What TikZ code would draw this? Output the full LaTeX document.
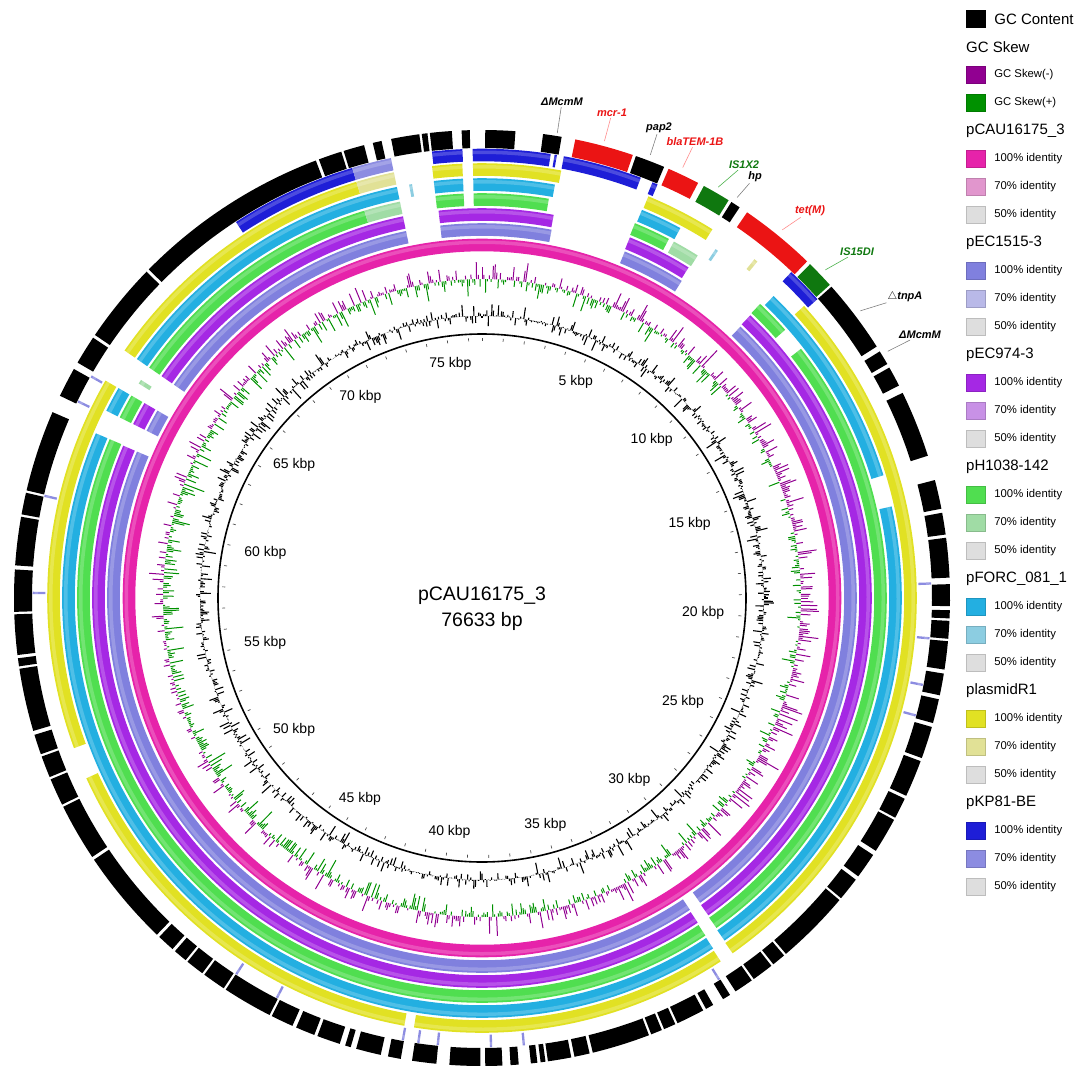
\documentclass[tikz,border=0pt]{standalone}
\usepackage{fontspec}
\setmainfont{Liberation Sans}
\usetikzlibrary{positioning}
\tikzset{%
  backbone/.style = {
    line width = 1.6pt,
    draw = black,
  },
  kbptick/.style = {
    line width = 0.7pt,
    draw = black!70,
  },
  kbplabel/.style = {
    font = \fontsize{14}{16}\selectfont,
    inner sep = 2pt,
  },
  titletext/.style = {
    font = \fontsize{19.5}{22}\selectfont,
    inner sep = 1pt,
  },
  gcbar/.style = {
    line width = 1.1pt,
    draw = black,
  },
  skewbar/.style = {
    line width = 1pt,
    draw = #1,
  },
  genelabel/.style = {
    font = \fontsize{11}{12}\selectfont\bfseries\itshape,
    text = #1,
    inner sep = 1pt,
  },
  genelabel/.default = {black},
  leader/.style = {
    line width = 0.6pt,
    draw = #1,
  },
  leader/.default = {gray},
  keybox/.style = {
    fill = #1,
    draw = #1!85!black,
    line width = 0.4pt,
    minimum width = 19pt,
    minimum height = 17pt,
    inner sep = 0pt,
  },
  keyhead/.style = {
    font = \fontsize{15}{17}\selectfont,
    anchor = west,
    inner sep = 0pt,
  },
  keylabel/.style = {
    font = \fontsize{11.3}{13}\selectfont,
    inner sep = 0pt,
  },
}
\definecolor{pcau}    {RGB}{230, 35,170}
\definecolor{pcaul}   {RGB}{225,150,205}
\definecolor{peca}    {RGB}{128,128,222}
\definecolor{pecal}   {RGB}{185,185,232}
\definecolor{pecb}    {RGB}{165, 40,228}
\definecolor{pecbl}   {RGB}{200,145,230}
\definecolor{ph}      {RGB}{ 80,222, 80}
\definecolor{phl}     {RGB}{160,220,165}
\definecolor{pforc}   {RGB}{ 35,175,225}
\definecolor{pforcl}  {RGB}{140,205,225}
\definecolor{pr}      {RGB}{225,225, 35}
\definecolor{prl}     {RGB}{225,225,150}
\definecolor{pkp}     {RGB}{ 30, 30,215}
\definecolor{pkpl}    {RGB}{140,140,225}
\definecolor{nohit}   {RGB}{222,222,222}
\definecolor{skewneg} {RGB}{145,  0,145}
\definecolor{skewpos} {RGB}{  0,145,  0}
\definecolor{genered} {RGB}{235, 20, 20}
\definecolor{genegreen}{RGB}{ 15,120, 15}

% ring piece: inner r, outer r, from, to (degrees clockwise from top), style
\newcommand{\band}[5]{%
  \fill[#5] ({90-(#3)}:#1pt) arc[start angle={90-(#3)}, end angle={90-(#4)}, radius=#1pt]
    -- ({90-(#4)}:#2pt) arc[start angle={90-(#4)}, end angle={90-(#3)}, radius=#2pt] -- cycle;%
}
% one BLAST ring: centre radius, list of from/to, colour
\newcommand{\track}[3]{%
  \pgfmathsetmacro{\rin}{#1-6.3}%
  \pgfmathsetmacro{\rout}{#1+6.3}%
  \pgfmathsetmacro{\rhi}{#1+4.5}%
  \pgfmathsetmacro{\rlo}{#1+1}%
  \foreach \sa/\sb in {#2} {%
    \band{\rin}{\rout}{\sa}{\sb}{#3}%
    \band{\rlo}{\rhi}{\sa}{\sb}{white, opacity=0.2}%
  }%
}
% gene ring
\newcommand{\genes}[2]{%
  \foreach \sa/\sb in {#1} {\band{450}{468}{\sa}{\sb}{#2}}%
}

\begin{document}
\begin{tikzpicture}[x=1pt, y=1pt]
  \useasboundingbox (0,0) rectangle (1084,-1081);

  \begin{scope}[shift={(482,-598)}]
    % backbone with kbp scale (4.69771 deg per kbp)
    \draw[backbone] (0,0) circle[radius=264pt];
    \foreach \k in {0,...,76} {
      \pgfmathsetmacro{\ang}{90-\k*4.69771}
      \draw[kbptick] (\ang:260pt) -- (\ang:257pt);
    }
    \foreach \k in {5,10,...,75} {
      \pgfmathsetmacro{\ang}{mod(450-\k*4.69771,360)}
      \node[kbplabel, anchor=\ang] (kbp\k) at (\ang:245pt) {\k\ kbp};
    }

    % GC content
    \pgfmathsetseed{2718}
    \foreach \i in {0,...,1099} {
      \pgfmathsetmacro{\ang}{90-\i*0.327273}
      \pgfmathsetmacro{\rtop}{282+28*(rnd-0.5)*rnd}
      \draw[gcbar] (\ang:282pt) -- (\ang:\rtop pt);
    }

    % GC skew
    \foreach \i in {0,...,1099} {
      \pgfmathsetmacro{\ang}{90-\i*0.327273}
      \pgfmathsetmacro{\v}{rnd-0.5+0.12*sin(\i*0.327273)}
      \ifdim \v pt > 0pt
        \pgfmathsetmacro{\rtop}{319+2+40*\v*rnd}
        \draw[skewbar=skewneg] (\ang:319pt) -- (\ang:\rtop pt);
      \else
        \pgfmathsetmacro{\rtop}{319-2+34*\v*rnd}
        \draw[skewbar=skewpos] (\ang:319pt) -- (\ang:\rtop pt);
      \fi
    }

    % BLAST rings, inside out
    \track{353}{0/360}{pcau}
    \track{368.5}{43.6/144.4, 146.3/293, 296.5/300, 304.7/348.3, -6.4/10.7, 22.4/32.2}{peca}
    \track{383.5}{43.5/144.5, 146.4/293, 296.5/300, 304.7/348.3, -6.4/10.6, 22.3/32}{pecb}
    \track{398.5}{52/144.6, 146.5/293.1, 296.5/300, 304.7/343.1, -6.6/-2.6, -1.2/9.5,
      22.2/27.5, 43.4/48.5}{ph}
    \track{398.5}{28.3/32.2, 343.1/348.3, 302/302.6}{phl}
    \track{413.5}{44/73, 77.4/144.7, 146.6/293.1, 296.5/300, 304.7/348.3, -6.6/-2.6, -1.2/10,
      22.4/28.2}{pforc}
    \track{413.5}{33.8/34.2, 350/350.4}{pforcl}
    \track{428.5}{47.8/144.8, 146.7/189, 190.3/245.5, 249.8/300, 304.7/343.2, -6.6/-2.6,
      -1.2/10.5, 22.5/32}{pr}
    \track{428.5}{343.2/348.3, 38.8/39.3}{prl}
    \track{443}{326.8/343.2, -6.4/-2.5, -1.2/8.8, 9.3/9.6, 10.5/20.7, 22.3/23, 43.5/48.3}{pkp}
    \track{443}{343.2/348.3, 88/88.3, 95/95.3, 101/101.3, 105/105.3, 148/148.3, 174.5/174.8,
      178.7/179, 185.5/185.8, 188/188.3, 190/190.3, 207/207.3, 213/213.3, 270.5/270.8,
      283/283.3, 295.8/296.1, 299.4/299.7}{pkpl}

    % annotated genes
    \genes{75.4/79, 79.5/82.2, 82.6/87.5, 88.3/91, 91.5/92.5, 92.8/95, 95.3/98.8, 99.3/102,
      102.5/105.5, 106/110, 110.4/115, 115.4/118, 118.3/122.7, 123.3/126.5, 127/129.9,
      130.2/139.5, 139.8/141.5, 141.8/144.5, 144.8/147.2, 148/149, 150.4/151.4, 151.8/155.3,
      155.6/157.1, 157.4/158.8, 159.1/166.3, 166.7/168.6, 169/171.9, 172.2/172.8, 173.2/174,
      175.5/176.5, 177.5/179.6, 180.2/184, 185.6/188.6, 190/191.6, 192.5/195.6, 196.3/197,
      197.7/200.6, 201/203.4, 203.9/206.7, 207/213.2, 213.5/216.4, 216.7/219, 219.3/221,
      221.4/223.6, 224/236, 236.4/243.5, 243.8/247.2, 247.5/250.2, 250.5/253, 253.5/261.3,
      261.6/262.6, 263/268, 268.3/273.5, 274/280, 280.3/283, 283.3/293.4, 295.6/299.3,
      300.2/303.8, 304.2/314.2, 314.6/339.2, 339.6/342.5, 342.8/345.4, 346.5/347.6,
      348.8/352.3, 352.6/353.3, 353.6/356.3, 357.5/358.5, 0.4/4.1, 7.5/9.8,
      19.2/22.9, 32.2/33.4, 48.3/57.5, 58.2/60, 60.5/63, 64/72.3}{black}
    \genes{11.5/18.8, 23.5/27.5, 34.5/44}{genered}
    \genes{28.3/31.8, 44.5/48}{genegreen}

    % gene ends of the leaders
    \coordinate (ptmcma) at ({90-9.2}:471pt);
    \coordinate (ptmcr) at ({90-15}:473pt);
    \coordinate (ptpap) at ({90-20.8}:474pt);
    \coordinate (ptbla) at ({90-25}:475pt);
    \coordinate (ptisa) at ({90-29.9}:474pt);
    \coordinate (pthp) at ({90-32.5}:475pt);
    \coordinate (pttet) at ({90-39.2}:475pt);
    \coordinate (ptisb) at ({90-46.3}:475pt);
    \coordinate (pttnp) at ({90-52.8}:475pt);
    \coordinate (ptmcmb) at ({90-58.7}:475pt);
  \end{scope}

  % gene labels
  \node[genelabel] (lblmcma) at (562,-102) {ΔMcmM};
  \node[genelabel=genered] (lblmcr) at (612,-113) {mcr-1};
  \node[genelabel] (lblpap) at (659,-128) {pap2};
  \node[genelabel=genered] (lblbla) at (695,-142) {blaTEM-1B};
  \node[genelabel=genegreen] (lblisa) at (744,-165) {IS1X2};
  \node[genelabel] (lblhp) at (755,-177) {hp};
  \node[genelabel=genered] (lbltet) at (810,-211) {tet(M)};
  \node[genelabel=genegreen] (lblisb) at (857,-252) {IS15DI};
  \node[genelabel] (lbltnp) at (905,-297) {{\normalfont$\triangle$}tnpA};
  \node[genelabel] (lblmcmb) at (920,-335) {ΔMcmM};
  \draw[leader] (lblmcma) -- (ptmcma);
  \draw[leader=red!45] (lblmcr) -- (ptmcr);
  \draw[leader] (lblpap) -- (ptpap);
  \draw[leader=red!45] (lblbla) -- (ptbla);
  \draw[leader=green!40!gray] (lblisa) -- (ptisa);
  \draw[leader] (lblhp) -- (pthp);
  \draw[leader=red!45] (lbltet) -- (pttet);
  \draw[leader=green!40!gray] (lblisb) -- (ptisb);
  \draw[leader] (lbltnp) -- (pttnp);
  \draw[leader] (lblmcmb) -- (ptmcmb);

  % centre title
  \node[titletext] (plasmid) at (482,-596) {pCAU16175\_3};
  \node[titletext, below=5pt of plasmid] (length) {76633 bp};

  % legend
  \node[keybox=black] (kgc) at (975.5,-19) {};
  \node[keyhead, right=9pt of kgc] (tgc) {GC Content};
  \node[keyhead] (hskew) at (966,-47) {GC Skew};
  \node[keybox=skewneg] (kneg) at (975.5,-75) {};
  \node[keylabel, right=9pt of kneg] (tneg) {GC Skew(-)};
  \node[keybox=skewpos] (kpos) at (975.5,-103) {};
  \node[keylabel, right=9pt of kpos] (tpos) {GC Skew(+)};
  \foreach \nm/\cl/\rw in {pCAU16175\_3/pcau/4, pEC1515-3/peca/8, pEC974-3/pecb/12,
      pH1038-142/ph/16, pFORC\_081\_1/pforc/20, plasmidR1/pr/24, pKP81-BE/pkp/28} {
    \pgfmathsetmacro{\yy}{-19-28*\rw}
    \node[keyhead] (h\cl) at (966,\yy) {\nm};
    \node[keybox=\cl] (k\cl-a) at (975.5,\yy-28) {};
    \node[keylabel, right=9pt of k\cl-a] (t\cl-a) {100\% identity};
    \node[keybox=\cl l] (k\cl-b) at (975.5,\yy-56) {};
    \node[keylabel, right=9pt of k\cl-b] (t\cl-b) {70\% identity};
    \node[keybox=nohit] (k\cl-c) at (975.5,\yy-84) {};
    \node[keylabel, right=9pt of k\cl-c] (t\cl-c) {50\% identity};
  }
\end{tikzpicture}
\end{document}
